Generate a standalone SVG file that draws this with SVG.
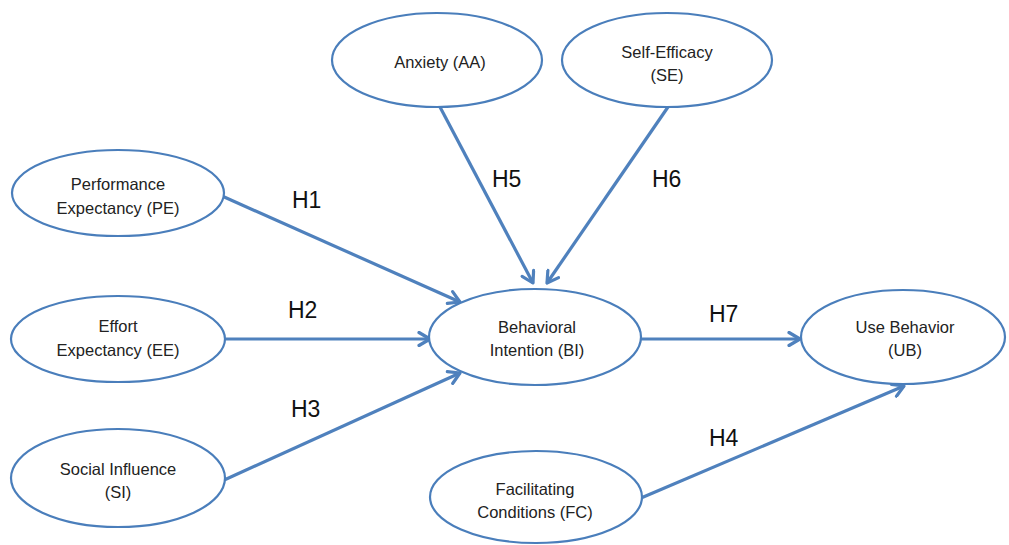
<svg xmlns="http://www.w3.org/2000/svg" width="1009" height="545" viewBox="0 0 1009 545">
<style>
.node ellipse{fill:#fff;stroke:#4a7ebb;stroke-width:2.2}
.node text{font-family:"Liberation Sans",Arial,sans-serif;font-size:16.5px;fill:#222;text-anchor:middle}
.conn line{stroke:#4f81bd;stroke-width:3.2;fill:none}
.lbl{font-family:"Liberation Sans",Arial,sans-serif;font-size:23px;fill:#111}
</style>
<defs>
<marker id="arr" markerUnits="userSpaceOnUse" viewBox="0 0 16 16" refX="14" refY="8" markerWidth="16" markerHeight="16" orient="auto">
<path d="M3,1.5 L14,8 L3,14.5" fill="none" stroke="#4f81bd" stroke-width="3.2" stroke-linecap="round" stroke-linejoin="round"/>
</marker>
</defs>
<rect width="1009" height="545" fill="#fff"/>
<g id="connectors" class="conn">
<line x1="222" y1="196" x2="460" y2="302" marker-end="url(#arr)"/>
<line x1="226" y1="339" x2="430" y2="339" marker-end="url(#arr)"/>
<line x1="222" y1="481" x2="460" y2="373" marker-end="url(#arr)"/>
<line x1="440" y1="107" x2="533" y2="283" marker-end="url(#arr)"/>
<line x1="668" y1="107" x2="547" y2="283" marker-end="url(#arr)"/>
<line x1="641" y1="339" x2="800" y2="339" marker-end="url(#arr)"/>
<line x1="641" y1="498" x2="904" y2="386" marker-end="url(#arr)"/>
</g>
<g id="PE" class="node"><ellipse cx="118" cy="193" rx="106" ry="43"/><text x="118" y="190">Performance</text><text x="118" y="214">Expectancy (PE)</text></g>
<g id="EE" class="node"><ellipse cx="118" cy="339" rx="107" ry="43"/><text x="118" y="332">Effort</text><text x="118" y="356">Expectancy (EE)</text></g>
<g id="SI" class="node"><ellipse cx="118" cy="478" rx="107" ry="49"/><text x="118" y="475">Social Influence</text><text x="118" y="498">(SI)</text></g>
<g id="BI" class="node"><ellipse cx="535" cy="337" rx="106" ry="48"/><text x="537" y="333">Behavioral</text><text x="537" y="356">Intention (BI)</text></g>
<g id="UB" class="node"><ellipse cx="903" cy="337" rx="102" ry="47"/><text x="905" y="333">Use Behavior</text><text x="905" y="356">(UB)</text></g>
<g id="FC" class="node"><ellipse cx="536" cy="497" rx="106" ry="46"/><text x="535" y="495">Facilitating</text><text x="535" y="518">Conditions (FC)</text></g>
<g id="AA" class="node"><ellipse cx="437" cy="60" rx="105" ry="47"/><text x="440" y="68">Anxiety (AA)</text></g>
<g id="SE" class="node"><ellipse cx="667" cy="60" rx="105" ry="47"/><text x="667" y="58">Self-Efficacy</text><text x="667" y="81">(SE)</text></g>
<g id="labels">
<text class="lbl" x="292" y="208">H1</text>
<text class="lbl" x="288" y="318">H2</text>
<text class="lbl" x="291" y="417">H3</text>
<text class="lbl" x="709" y="446">H4</text>
<text class="lbl" x="492" y="187">H5</text>
<text class="lbl" x="652" y="187">H6</text>
<text class="lbl" x="709" y="322">H7</text>
</g>
</svg>
